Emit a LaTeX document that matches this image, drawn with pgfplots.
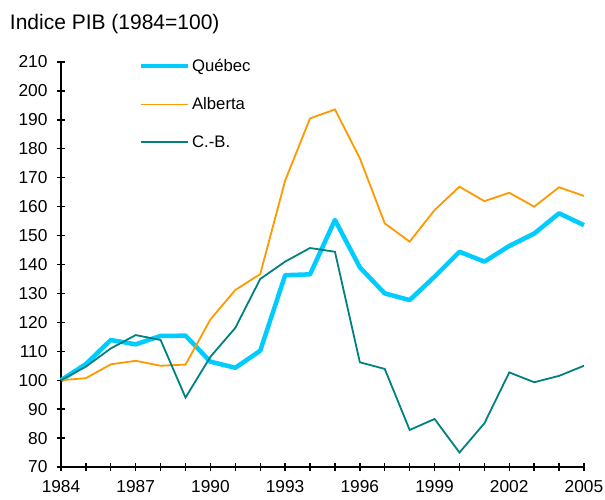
\documentclass[border=0pt]{standalone}
\usepackage{fontspec}
\setmainfont{Liberation Sans}
\usepackage{pgfplots}
\pgfplotsset{compat=1.18}
\definecolor{qc}{HTML}{00CCFF}
\definecolor{ab}{HTML}{FF9900}
\definecolor{cb}{HTML}{008080}
\begin{document}
\begin{tikzpicture}
\path[use as bounding box] (-61pt,-33pt) rectangle (544pt,467pt);
\begin{axis}[
  at={(0,0)}, anchor=south west,
  scale only axis, width=523pt, height=405pt,
  xmin=1984, xmax=2005, ymin=70, ymax=210,
  axis x line=bottom, axis y line=left,
  axis line style={-, line width=1.4pt, black},
  xtick={1984,...,2005},
  xticklabels={1984,,,1987,,,1990,,,1993,,,1996,,,1999,,,2002,,,2005},
  ytick={70,80,...,210},
  tick align=center, major tick length=8pt,
  tick style={line width=1.4pt, black},
  /pgf/number format/1000 sep={},
  /pgf/number format/assume math mode=true,
  tick label style={font=\fontsize{17.3}{19}\selectfont},
  yticklabel style={xshift=-6pt},
  xticklabel style={yshift=-8.5pt, inner sep=1pt},
  clip=false,
  legend style={at={(rel axis cs:0.148,1.012)}, anchor=north west, draw=none, fill=none,
    font=\fontsize{16.7}{19}\selectfont, row sep=20.5pt, inner sep=0pt},
  legend cell align=left,
  legend image code/.code={\draw[#1] (0pt,0pt) -- (47pt,0pt);},
]
\addplot[qc, line width=4.5pt, line join=round] coordinates {
(1984,100)(1985,105.6)(1986,113.9)(1987,112.4)(1988,115.3)(1989,115.4)(1990,106.4)(1991,104.3)(1992,110.2)(1993,136.3)(1994,136.6)(1995,155.4)(1996,139.0)(1997,130.0)(1998,127.7)(1999,135.8)(2000,144.4)(2001,141.0)(2002,146.4)(2003,150.7)(2004,157.7)(2005,153.6)};
\addlegendentry{Québec}
\addplot[ab, line width=1.8pt] coordinates {
(1984,100)(1985,100.7)(1986,105.5)(1987,106.7)(1988,105.0)(1989,105.4)(1990,121.0)(1991,131.2)(1992,136.7)(1993,169.0)(1994,190.5)(1995,193.6)(1996,176.7)(1997,154.2)(1998,147.9)(1999,158.8)(2000,166.9)(2001,161.9)(2002,164.8)(2003,160.0)(2004,166.7)(2005,163.7)};
\addlegendentry{Alberta}
\addplot[cb, line width=1.8pt] coordinates {
(1984,100)(1985,104.7)(1986,111.0)(1987,115.6)(1988,113.9)(1989,94.0)(1990,108.1)(1991,118.1)(1992,135.0)(1993,141.0)(1994,145.7)(1995,144.4)(1996,106.2)(1997,103.9)(1998,82.8)(1999,86.6)(2000,75.0)(2001,85.1)(2002,102.7)(2003,99.3)(2004,101.5)(2005,105.0)};
\addlegendentry{C.-B.}
\node[anchor=west, font=\fontsize{21}{24}\selectfont, inner sep=0pt] at (rel axis cs:-0.098,1.0926) {Indice PIB (1984=100)};
\end{axis}
\end{tikzpicture}
\end{document}
